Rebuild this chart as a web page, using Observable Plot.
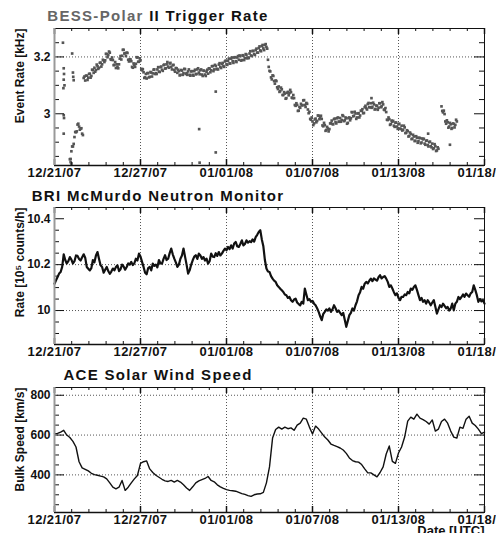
<!DOCTYPE html>
<html><head><meta charset="utf-8">
<script src="https://cdn.jsdelivr.net/npm/d3@7"></script>
<script src="https://cdn.jsdelivr.net/npm/@observablehq/plot@0.6"></script>
<style>
body{margin:0;background:#fff;}
#chart{position:relative;width:496px;height:533px;overflow:hidden;font-family:"Liberation Sans",Arial,Helvetica,sans-serif;}
.title{position:absolute;left:0;width:316px;text-align:center;font-size:15px;line-height:15px;font-weight:bold;letter-spacing:1.3px;color:#111;white-space:nowrap;}
#chart svg{position:absolute;left:0;}
g[aria-label="x-axis tick label"] text{letter-spacing:0.4px;}
</style></head><body><div id="chart"></div>
<script>
// ---- shared x axis (days since start of the plotted range) ----
const DAYS = 28;
const dateLabels = ["12/21/07","12/27/07","01/01/08","01/07/08","01/13/08","01/18/08"];

// ---- panel titles / axis titles ----
const titles = ["BESS-Polar II Trigger Rate", "BRI McMurdo Neutron Monitor", "ACE Solar Wind Speed"];
const yTitles = ["Event Rate [kHz]", "Rate [10\u2075 counts/h]", "Bulk Speed [km/s]"];
const xTitle = "Date [UTC]";

// ---- y tick labels ----
const trigYLabels = [3, 3.2];
const neutronYLabels = [10, 10.2, 10.4];
const windYLabels = [400, 600, 800];

// ---- BESS-Polar II trigger rate [kHz], readings at 0.0, 0.1, 0.2 ... days ----
const TRIG_STEP = 0.1;
const trigRate = [
null,null,null,null,null,null,null,null,null,null,
2.84,2.868,2.885,2.918,2.935,2.962,2.955,2.948,2.93,3.126,
3.117,3.134,3.127,3.141,3.133,3.154,3.162,3.154,3.167,3.162,
3.18,3.174,3.188,3.188,3.21,3.207,3.215,3.19,3.189,3.172,
3.161,3.165,3.174,3.203,3.204,3.225,3.213,3.215,3.19,3.192,
3.185,3.162,3.172,3.176,3.198,3.183,3.188,3.153,3.146,3.128,
3.124,3.143,3.13,3.145,3.142,3.156,3.143,3.156,3.148,3.164,
3.155,3.171,3.159,3.174,3.166,3.177,3.165,3.171,3.154,3.161,
3.144,3.15,3.137,3.152,3.143,3.157,3.143,3.149,3.137,3.149,
3.137,3.15,3.139,3.156,3.145,3.153,3.138,3.152,3.138,3.148,
3.141,3.159,3.153,3.168,3.156,3.168,3.158,3.173,3.165,3.176,
3.168,3.184,3.174,3.186,3.177,3.194,3.185,3.198,3.185,3.198,
3.19,3.203,3.189,3.204,3.196,3.208,3.198,3.212,3.205,3.221,
3.21,3.224,3.215,3.231,3.223,3.238,3.23,3.242,3.235,3.19,
3.151,3.128,3.135,3.115,3.117,3.093,3.096,3.08,3.086,3.066,
3.071,3.055,3.077,3.073,3.076,3.055,3.055,3.028,3.031,3.011,
3.021,3.03,3.047,3.031,3.038,3.015,3.007,2.979,2.973,2.966,
2.983,2.975,2.993,2.986,2.982,2.956,2.96,2.943,2.948,2.946,
2.967,2.964,2.981,2.971,2.984,2.972,2.985,2.978,2.992,2.977,
2.984,2.968,2.987,2.984,3.005,2.993,3.001,2.987,3.002,2.994,
3.01,3.002,3.023,3.02,3.034,3.023,3.037,3.024,3.033,3.017,
3.028,3.021,3.037,3.026,3.033,3.013,3.006,2.978,2.981,2.964,
2.972,2.958,2.969,2.955,2.963,2.948,2.958,2.944,2.952,2.933,
2.939,2.922,2.929,2.912,2.92,2.905,2.916,2.904,2.914,2.899,
2.91,2.895,2.905,2.89,2.9,2.886,2.895,2.879,2.886,2.871,
2.877,null,3.026,3.005,2.999,2.965,2.97,2.955,2.963,2.95,
2.964,2.961,2.973,null,null,null,null,null,null,null,
null,null,null,null,null,null,null,null,null,null,
null];
// second reading in each interval, at 0.05, 0.15, 0.25 ... days
const TRIG2_OFFSET = 0.05;
const trigRate2 = [
null,null,null,null,null,null,null,null,null,null,
2.841,2.885,2.894,2.936,2.938,2.965,2.944,2.949,2.925,3.131,
3.134,3.119,3.14,3.127,3.155,3.144,3.148,3.173,3.158,3.179,
3.166,3.19,3.182,3.211,3.199,3.219,3.192,3.198,3.171,3.182,
3.174,3.16,3.194,3.191,3.225,3.212,3.203,3.214,3.184,3.191,
3.165,3.177,3.165,3.199,3.183,3.195,3.158,3.157,3.126,3.14,
3.143,3.128,3.147,3.131,3.155,3.14,3.14,3.164,3.147,3.166,
3.151,3.173,3.16,3.182,3.162,3.179,3.156,3.172,3.148,3.16,
3.155,3.135,3.154,3.137,3.158,3.14,3.137,3.156,3.134,3.15,
3.134,3.155,3.14,3.16,3.139,3.156,3.133,3.151,3.133,3.155,
3.16,3.146,3.167,3.15,3.172,3.157,3.156,3.178,3.161,3.179,
3.165,3.187,3.172,3.194,3.177,3.198,3.179,3.199,3.182,3.203,
3.205,3.187,3.206,3.189,3.21,3.195,3.196,3.22,3.203,3.221,
3.207,3.229,3.215,3.237,3.22,3.242,3.224,3.245,3.229,3.165,
3.149,3.121,3.133,3.106,3.115,3.087,3.077,3.092,3.066,3.076,
3.053,3.074,3.065,3.084,3.057,3.066,3.031,3.037,3.01,3.024,
3.035,3.03,3.048,3.024,3.035,3.002,2.982,2.987,2.96,2.98,
2.97,2.994,2.981,2.993,2.959,2.968,2.94,2.954,2.938,2.966,
2.976,2.963,2.983,2.966,2.987,2.972,2.972,2.995,2.974,2.987,
2.965,2.985,2.977,3.006,2.991,3.007,2.982,3.001,2.987,3.011,
3.016,3.003,3.028,3.015,3.038,3.023,3.021,3.039,3.015,3.029,
3.014,3.037,3.023,3.041,3.015,3.02,2.979,2.987,2.961,2.976,
2.975,2.954,2.969,2.947,2.965,2.946,2.941,2.958,2.932,2.942,
2.92,2.934,2.911,2.926,2.904,2.921,2.898,2.916,2.896,2.913,
2.912,2.891,2.906,2.885,2.902,2.882,2.876,2.893,2.869,2.882,
null,null,3.01,3.011,2.973,2.977,2.951,2.968,2.947,2.966,
2.952,2.979,null,null,null,null,null,null,null,null,
null,null,null,null,null,null,null,null,null,null];
// isolated trigger-rate readings
const trigOutDay  = [0.55,0.6,0.62,0.6,0.65,0.58,0.6,0.62,0.6,1.15,1.2,1.22,1.25,1.05,1.1,9.42,9.45,10.5,10.5,20.64,24.33,25.75];
const trigOutRate = [3.25,3.16,3.14,3.12,3.10,3.09,2.995,2.985,2.93,3.212,3.145,3.13,3.118,2.83,2.825,2.946,2.828,3.078,2.864,3.055,2.93,2.891];

// ---- McMurdo neutron monitor rate [10^5 counts/h], every 0.1 day ----
const NEUTRON_STEP = 0.1;
const neutronRate = [
10.117,10.132,10.146,10.161,10.168,10.19,10.245,10.22,10.205,10.215,
10.233,10.222,10.205,10.215,10.24,10.238,10.225,10.218,10.232,10.245,
10.23,10.19,10.182,10.175,10.185,10.22,10.21,10.24,10.255,10.225,
10.197,10.19,10.165,10.178,10.19,10.172,10.16,10.17,10.183,10.175,
10.19,10.197,10.172,10.18,10.2,10.192,10.178,10.19,10.205,10.2,
10.212,10.198,10.206,10.226,10.218,10.248,10.235,10.212,10.19,10.165,
10.158,10.185,10.19,10.175,10.205,10.195,10.2,10.188,10.22,10.205,
10.204,10.225,10.241,10.22,10.226,10.25,10.27,10.245,10.226,10.21,
10.19,10.2,10.226,10.24,10.27,10.235,10.2,10.161,10.175,10.2,
10.219,10.235,10.241,10.225,10.248,10.24,10.225,10.233,10.218,10.226,
10.204,10.215,10.248,10.235,10.233,10.25,10.238,10.255,10.24,10.248,
10.26,10.27,10.262,10.277,10.268,10.284,10.27,10.292,10.299,10.28,
10.277,10.29,10.306,10.284,10.29,10.306,10.296,10.302,10.298,10.31,
10.3,10.32,10.33,10.342,10.35,10.31,10.28,10.22,10.183,10.17,
10.168,10.15,10.139,10.13,10.125,10.11,10.103,10.095,10.088,10.081,
10.07,10.067,10.055,10.059,10.045,10.038,10.048,10.052,10.035,10.028,
10.023,10.038,10.03,10.096,10.07,10.045,10.05,10.038,10.042,10.03,
10.023,10.01,9.994,9.975,9.958,9.985,9.994,10.005,10.0,10.009,
9.994,10.005,10.023,10.01,9.994,10.0,9.99,9.98,9.99,9.96,
9.929,9.955,9.98,9.99,10.009,10.0,10.023,10.04,10.067,10.08,
10.103,10.095,10.117,10.125,10.118,10.13,10.139,10.128,10.14,10.135,
10.13,10.145,10.154,10.14,10.146,10.15,10.139,10.125,10.103,10.11,
10.096,10.08,10.067,10.075,10.055,10.045,10.06,10.059,10.07,10.067,
10.081,10.075,10.096,10.09,10.103,10.11,10.09,10.067,10.045,10.055,
10.038,10.045,10.03,10.045,10.035,10.023,10.035,10.045,10.016,9.987,
10.005,10.023,10.015,10.03,10.02,10.01,10.016,10.0,10.009,10.03,
10.001,10.03,10.038,10.059,10.05,10.059,10.07,10.06,10.074,10.067,
10.06,10.075,10.081,10.11,10.09,10.067,10.038,10.05,10.04,10.045,
10.03];

// ---- ACE solar wind bulk speed [km/s], every 0.2 day ----
const WIND_STEP = 0.2;
const windSpeed = [
607,608,615,624,600,588,568,540,466,435,
428,420,408,401,398,394,390,380,360,338,
330,338,372,322,338,360,380,397,458,466,
470,430,412,398,388,378,370,367,372,364,
372,364,350,334,322,340,360,370,376,382,
392,372,365,350,340,332,326,322,320,318,
312,306,302,296,292,300,304,305,312,360,
440,585,628,640,630,640,632,636,624,650,
660,685,680,640,605,645,630,610,590,575,
555,548,542,535,525,508,485,472,466,464,
452,430,410,410,400,390,412,440,505,545,
468,458,510,540,590,670,690,680,705,685,
678,668,655,676,620,630,668,680,660,620,
590,585,640,634,680,695,660,648,630,607,
615];

// ---------------------------------------------------------------
const trigData = trigRate.map((v, i) => ({d: i * TRIG_STEP, v}))
  .concat(trigRate2.map((v, i) => ({d: TRIG2_OFFSET + i * TRIG_STEP, v})))
  .filter(p => p.v != null)
  .concat(trigOutDay.map((d, i) => ({d, v: trigOutRate[i]})));
const neutronData = neutronRate.map((v, i) => ({d: i * NEUTRON_STEP, v}));
const windData = windSpeed.map((v, i) => ({d: i * WIND_STEP, v}));

const nMaj = dateLabels.length - 1;
const xMajor = dateLabels.map((_, i) => i * DAYS / nMaj);
const xMinor = d3.range(0, nMaj * 5 + 1).map(i => i * DAYS / (nMaj * 5));
const fmtX = d => dateLabels[Math.round(d / (DAYS / nMaj))];

const W = 496, ML = 54, MR = 12;
const chart = document.getElementById("chart");

function panel({top, height, mt, mb, yDomain, yStep, yLabels, yGrid, yTitle, marks, extra = []}) {
  const fw = W - ML - MR, fh = height - mt - mb;
  const y0 = Math.ceil(yDomain[0] / yStep - 1e-6);
  const y1 = Math.floor(yDomain[1] / yStep + 1e-6);
  const yTicks = d3.range(y0, y1 + 1).map(k => +(k * yStep).toFixed(4));
  const isMajY = v => yLabels.some(l => Math.abs(l - v) < 1e-6);
  const isMajX = (d, i) => i % 5 === 0;
  const dotted = {stroke: "#555", strokeWidth: 1, strokeDasharray: "1,2"};
  const svg = Plot.plot({
    width: W, height,
    marginLeft: ML, marginRight: MR, marginTop: mt, marginBottom: mb,
    x: {domain: [0, DAYS], label: null},
    y: {domain: yDomain, label: null},
    style: {fontFamily: '"Liberation Sans", Arial, Helvetica, sans-serif', fontWeight: "bold", fontSize: "12px", color: "#111", background: "white"},
    marks: [
      Plot.ruleX(xMajor.slice(1, -1), dotted),
      Plot.ruleY(yGrid, dotted),
      ...marks,
      // x ticks (bottom & top, pointing inward)
      Plot.tickX(xMinor.filter((d, i) => !isMajX(d, i)), {x: d => d, insetTop: fh - 3, stroke: "#111"}),
      Plot.tickX(xMinor.filter((d, i) => !isMajX(d, i)), {x: d => d, insetBottom: fh - 3, stroke: "#111"}),
      Plot.tickX(xMajor, {x: d => d, insetTop: fh - 6, stroke: "#111", strokeWidth: 1.5}),
      Plot.tickX(xMajor, {x: d => d, insetBottom: fh - 6, stroke: "#111", strokeWidth: 1.5}),
      // y ticks (left & right, pointing inward)
      Plot.tickY(yTicks.filter(v => !isMajY(v)), {y: d => d, insetRight: fw - 5, stroke: "#111"}),
      Plot.tickY(yTicks.filter(v => !isMajY(v)), {y: d => d, insetLeft: fw - 5, stroke: "#111"}),
      Plot.tickY(yLabels, {y: d => d, insetRight: fw - 10, stroke: "#111"}),
      Plot.tickY(yLabels, {y: d => d, insetLeft: fw - 10, stroke: "#111"}),
      Plot.frame({stroke: "#111"}),
      Plot.ruleY([yDomain[0]], {stroke: "#111", strokeWidth: 1.5}),
      Plot.ruleX([0], {stroke: "#999", strokeWidth: 2}),
      Plot.axisX({ticks: xMajor, tickFormat: fmtX, tickSize: 0, tickPadding: 2, fontSize: 13, fontWeight: "bold", label: null}),
      Plot.axisY({ticks: yLabels, tickFormat: d => String(d), tickSize: 0, tickPadding: 4, fontSize: 12, fontWeight: "bold", label: null}),
      Plot.text([yTitle], {text: d => d, frameAnchor: "top-left", rotate: -90, textAnchor: "end", lineAnchor: "middle", dx: -34, fontSize: 12, fontWeight: "bold", fill: "#111"}),
      ...extra
    ]
  });
  svg.style.top = top + "px";
  chart.appendChild(svg);
}

panel({
  top: 0, height: 180, mt: 28, mb: 15,
  yDomain: [2.818, 3.30], yStep: 0.05, yLabels: trigYLabels, yGrid: [3.2], yTitle: yTitles[0],
  marks: [Plot.dot(trigData, {x: "d", y: "v", symbol: "square", r: 1.5, fill: "#555"})]
});
panel({
  top: 180, height: 180, mt: 27, mb: 16,
  yDomain: [9.852, 10.449], yStep: 0.05, yLabels: neutronYLabels, yGrid: [10, 10.2], yTitle: yTitles[1],
  marks: [Plot.line(neutronData, {x: "d", y: "v", stroke: "#111", strokeWidth: 2.2})]
});
panel({
  top: 360, height: 173, mt: 27, mb: 21,
  yDomain: [211, 839], yStep: 50, yLabels: windYLabels, yGrid: windYLabels, yTitle: yTitles[2],
  marks: [Plot.line(windData, {x: "d", y: "v", stroke: "#111", strokeWidth: 1.4})],
  extra: [Plot.text([xTitle], {text: d => d, frameAnchor: "bottom-right", textAnchor: "end", lineAnchor: "top", dy: 13, fontSize: 13, fontWeight: "bold", fill: "#111"})]
});

// titles (HTML, above each panel)
const titleTops = [8, 188, 367];
titles.forEach((t, i) => {
  const div = document.createElement("div");
  div.className = "title";
  div.style.top = titleTops[i] + "px";
  if (i === 0) {
    const parts = t.split(" ");
    const s = document.createElement("span");
    s.style.color = "#666";
    s.textContent = parts[0];
    div.appendChild(s);
    div.appendChild(document.createTextNode(" " + parts.slice(1).join(" ")));
  } else {
    div.textContent = t;
  }
  chart.appendChild(div);
});
</script></body></html>
